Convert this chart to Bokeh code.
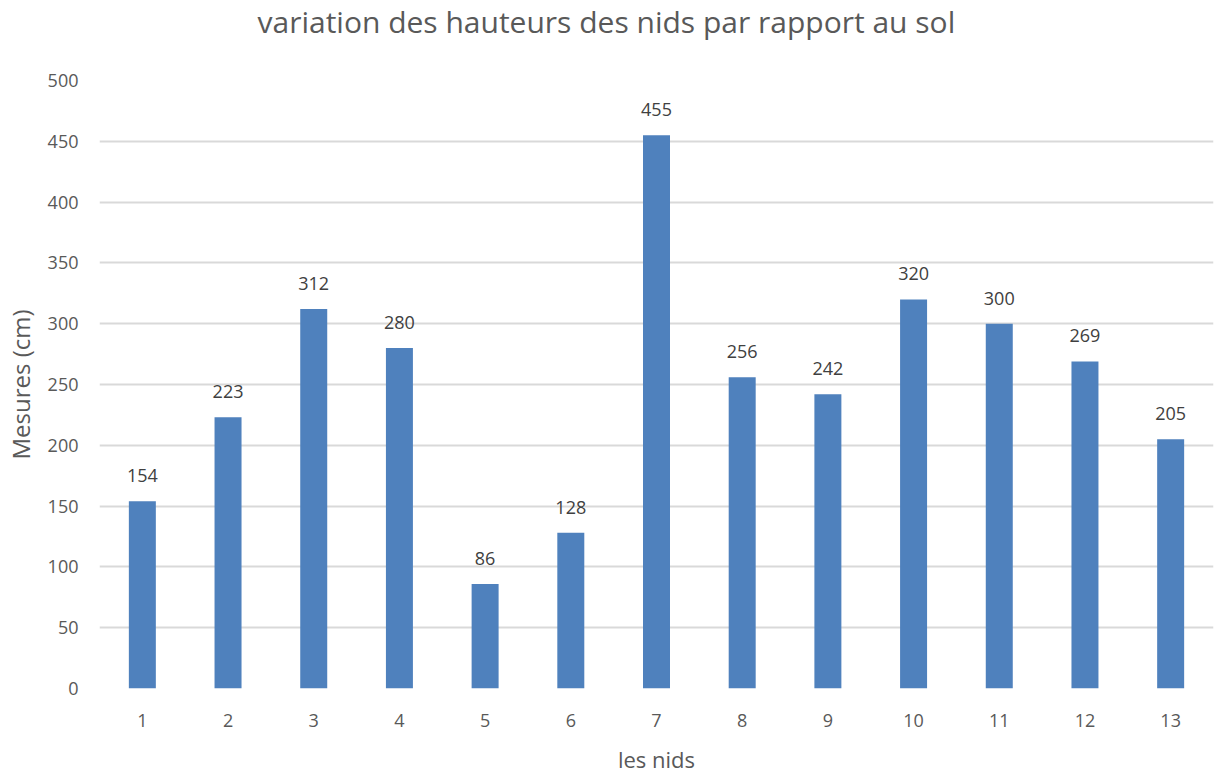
from bokeh.plotting import figure
from bokeh.models import ColumnDataSource, LabelSet, FactorRange, Range1d, Title
from bokeh.core.properties import value
from bokeh.embed import file_html
from bokeh.resources import INLINE

nids = [str(i) for i in range(1, 14)]
mesures = [154, 223, 312, 280, 86, 128, 455, 256, 242, 320, 300, 269, 205]
y_ticks = [0, 50, 100, 150, 200, 250, 300, 350, 400, 450, 500]
titre = "variation des hauteurs des nids par rapport au sol"

FONT = "Open Sans"
TXT = "#595959"

src = ColumnDataSource(data=dict(x=nids, y=mesures, lab=[str(v) for v in mesures]))

p = figure(x_range=FactorRange(*nids, range_padding=0), y_range=Range1d(0, 500),
           width=1215, height=776, output_backend="svg", toolbar_location=None,
           min_border_left=98, min_border_right=2, min_border_top=80, min_border_bottom=87)
p.outline_line_color = None
p.background_fill_color = "white"
p.border_fill_color = "white"

# spacer panel between frame and title
spacer = Title(text=" ", text_font_size="1px", standoff=34, text_color="white")
p.add_layout(spacer, "above")

main_title = Title(text=titre, text_font=FONT, text_font_size="30px",
                   text_font_style="normal", text_color=TXT, align="left",
                   offset=158, standoff=0, vertical_align="top")
p.add_layout(main_title, "above")

p.vbar(x="x", top="y", width=0.315, source=src, fill_color="#4F81BD", line_color=None)

labels = LabelSet(x="x", y="y", text="lab", source=src, text_align="center",
                  text_baseline="alphabetic", y_offset=19, text_font=value(FONT),
                  text_font_size=value("18px"), text_color="#404040")
p.add_layout(labels)

p.yaxis.ticker = y_ticks
p.ygrid.grid_line_color = "#D9D9D9"
p.ygrid.grid_line_width = 2
p.xgrid.grid_line_color = None

for ax in (p.xaxis[0], p.yaxis[0]):
    ax.axis_line_color = None
    ax.major_tick_line_color = None
    ax.minor_tick_line_color = None
    ax.major_tick_out = 0
    ax.major_tick_in = 0
    ax.major_label_text_font = FONT
    ax.major_label_text_font_size = "18px"
    ax.major_label_text_color = TXT
    ax.axis_label_text_font = FONT
    ax.axis_label_text_font_style = "normal"
    ax.axis_label_text_color = TXT

p.xaxis.axis_label = "les nids"
p.yaxis.axis_label = "Mesures (cm)"
p.xaxis.axis_label_text_font_size = "22px"
p.yaxis.axis_label_text_font_size = "24px"
p.xaxis.major_label_standoff = 25
p.xaxis.axis_label_standoff = 14
p.yaxis.major_label_standoff = 21
p.yaxis.axis_label_standoff = 8

open("out.html", "w").write(file_html(p, INLINE))
